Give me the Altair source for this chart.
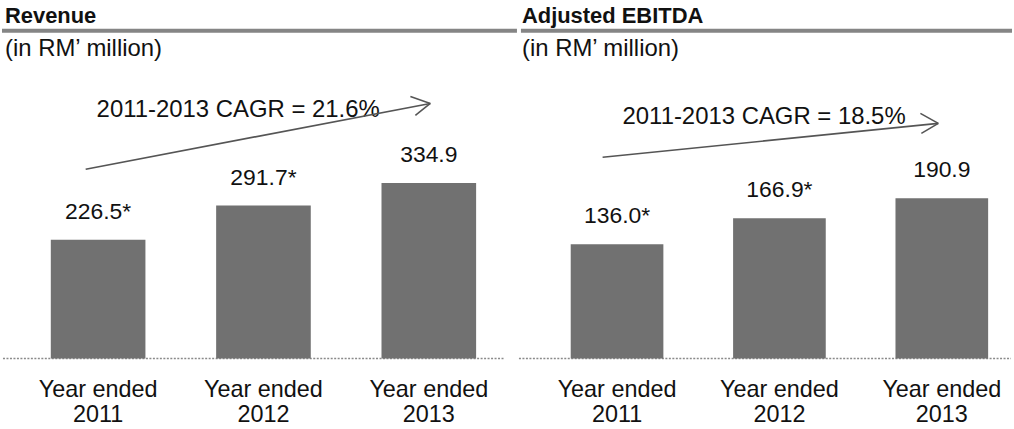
import altair as alt
import pandas as pd

# ---- data ----
years = ["2011", "2012", "2013"]
year_labels = ["Year ended\n2011", "Year ended\n2012", "Year ended\n2013"]

revenue = [226.5, 291.7, 334.9]
revenue_text = ["226.5*", "291.7*", "334.9"]

ebitda = [136.0, 166.9, 190.9]
ebitda_text = ["136.0*", "166.9*", "190.9"]

titles = ["Revenue", "Adjusted EBITDA"]
unit_text = "(in RM\u2019 million)"
cagr_text = ["2011-2013 CAGR = 21.6%", "2011-2013 CAGR = 18.5%"]

FONT = "Liberation Sans"
BAR = "#717171"
INK = "#111111"
H = 359  # baseline of the bars


def one_row(**kw):
    return pd.DataFrame({k: [v] for k, v in kw.items()})


def seg(x1, y1, x2, y2, color="#555555", width=1.6, dash=None):
    props = dict(color=color, strokeWidth=width)
    if dash:
        props["strokeDash"] = dash
    return (
        alt.Chart(one_row(k=0))
        .mark_rule(**props)
        .encode(x=alt.value(x1), y=alt.value(y1), x2=alt.value(x2), y2=alt.value(y2))
    )


def panel(title, values, texts, cagr, ymax, width, p_in, p_out, lay):
    df = pd.DataFrame({"year": years, "label": year_labels, "value": values, "text": texts})
    x = alt.X("year:N", sort=years, axis=None,
              scale=alt.Scale(paddingInner=p_in, paddingOuter=p_out))
    y = alt.Y("value:Q", axis=None, scale=alt.Scale(domain=[0, ymax], nice=False, zero=True))
    base = alt.Chart(df)

    bars = base.mark_bar(color=BAR).encode(x=x, y=y)
    vals = base.mark_text(font=FONT, fontSize=23, color=INK, baseline="alphabetic", dy=-21).encode(
        x=x, y=y, text="text:N")
    xlab = base.mark_text(font=FONT, fontSize=23.5, color=INK, baseline="alphabetic",
                          lineBreak="\n", lineHeight=25).encode(
        x=x, y=alt.value(398), text="label:N")

    tx = lay["tx"]
    head = alt.Chart(one_row(t=title)).mark_text(
        font=FONT, fontSize=22, fontWeight="bold", color=INK, align="left", baseline="alphabetic"
    ).encode(x=alt.value(tx), y=alt.value(22), text="t:N")
    unit = alt.Chart(one_row(t=unit_text)).mark_text(
        font=FONT, fontSize=24, color=INK, align="left", baseline="alphabetic"
    ).encode(x=alt.value(tx), y=alt.value(55), text="t:N")
    underline = seg(lay["ul"][0], 30, lay["ul"][1], 30, color="#858585", width=4)
    baseline = seg(lay["bl"][0], H, lay["bl"][1], H, color="#8a8a8a", width=1.5, dash=[2, 1.5])

    cg = alt.Chart(one_row(t=cagr)).mark_text(
        font=FONT, fontSize=24, color=INK, align="left", baseline="alphabetic"
    ).encode(x=alt.value(lay["cx"]), y=alt.value(lay["cy"]), text="t:N")

    (ax1, ay1), (ax2, ay2) = lay["arrow"]
    (t1x, t1y), (t2x, t2y) = lay["head"]
    arrow = seg(ax1, ay1, ax2, ay2)
    arm1 = seg(t1x, t1y, ax2, ay2)
    arm2 = seg(t2x, t2y, ax2, ay2)

    return alt.layer(
        underline, baseline, bars, vals, xlab, head, unit, cg, arrow, arm1, arm2
    ).properties(width=width, height=H)


left = panel(
    titles[0], revenue, revenue_text, cagr_text[0], 682.5, 525, 0.4277, 0.2952,
    dict(tx=3, ul=(0, 517), bl=(1, 505), cx=95, cy=117,
         arrow=((84, 169), (430, 103)), head=((410, 96), (415, 115))),
)
right = panel(
    titles[1], ebitda, ebitda_text, cagr_text[1], 426, 467, 0.4294, 0.147,
    dict(tx=-25, ul=(-26, 467), bl=(-28, 466), cx=76, cy=124,
         arrow=((56, 157), (393, 123)), head=((375, 113), (376, 133))),
)

chart = (
    alt.hconcat(left, right, spacing=22, bounds="flush")
    .properties(padding=0)
    .configure_view(stroke=None)
)

chart.save("out.html", embed_options={"renderer": "svg", "actions": False})
